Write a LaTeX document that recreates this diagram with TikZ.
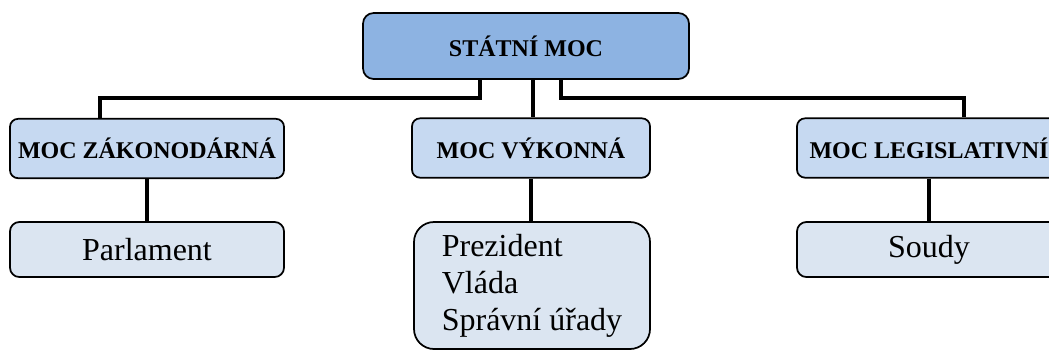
\documentclass[tikz,border=0pt]{standalone}
\usepackage{fontspec}
\setmainfont{Liberation Serif}
\usepackage{tikz}

\definecolor{topfill}{HTML}{8DB3E2}
\definecolor{midfill}{HTML}{C6D9F1}
\definecolor{lowfill}{HTML}{DBE5F1}

\tikzset{
    topbox/.style={draw=black, line width=1.3pt, rounded corners=8pt, fill=topfill,
        font=\fontsize{18}{21}\selectfont\bfseries, inner sep=0pt},
    branchbox/.style={draw=black, line width=1.3pt, rounded corners=6pt, fill=midfill,
        font=\fontsize{18}{21}\selectfont\bfseries, inner sep=0pt, minimum height=44.5pt},
    organbox/.style={draw=black, line width=1.3pt, rounded corners=7pt, fill=lowfill,
        font=\fontsize{24}{27.75}\selectfont, inner sep=0pt},
    conn/.style={draw=black, line width=2.4pt}
}

\begin{document}
\begin{tikzpicture}[x=0.75pt, y=-0.75pt]
        \useasboundingbox (0,0) rectangle (1049,351);
        \clip (0,0) rectangle (1049,351);

        % Top box
        \node[topbox, minimum width=244.5pt, minimum height=49.5pt] (top) at (526,46) {STÁTNÍ MOC};

        % Branches of power
        \node[branchbox, minimum width=205.5pt] (zak) at (147,148.5) {MOC ZÁKONODÁRNÁ};
        \node[branchbox, minimum width=178.5pt] (vyk) at (531,148) {MOC VÝKONNÁ};
        \node[branchbox, minimum width=198pt] (leg) at (929,148) {MOC LEGISLATIVNÍ};

        % Bodies
        \node[organbox, minimum width=205.5pt, minimum height=41.25pt] (parl) at (147,249.5) {Parlament};
        \node[organbox, rounded corners=15pt, align=left, minimum width=177pt, minimum height=95.25pt] (vlada) at (532,285.5) {Prezident\\Vláda\\Správní úřady};
        \node[organbox, minimum width=198pt, minimum height=41.25pt] (soud) at (929,249.5) {Soudy};

        % Connectors from the top box
        \coordinate (jl) at (100,98);
        \coordinate (jr) at (964,98);
        \draw[conn] ([xshift=-34.5pt]top.south) |- (jl) -- (jl |- zak.north);
        \draw[conn] ([xshift=26.25pt]top.south) |- (jr) -- (jr |- leg.north);
        \draw[conn] ([xshift=1.5pt]top.south -| vyk.north) -- ([xshift=1.5pt]vyk.north);

        % Connectors to the bodies
        \draw[conn] (zak) -- (parl);
        \draw[conn] (vyk.south) -- (vlada.north -| vyk.south);
        \draw[conn] (leg) -- (soud);
\end{tikzpicture}
\end{document}
